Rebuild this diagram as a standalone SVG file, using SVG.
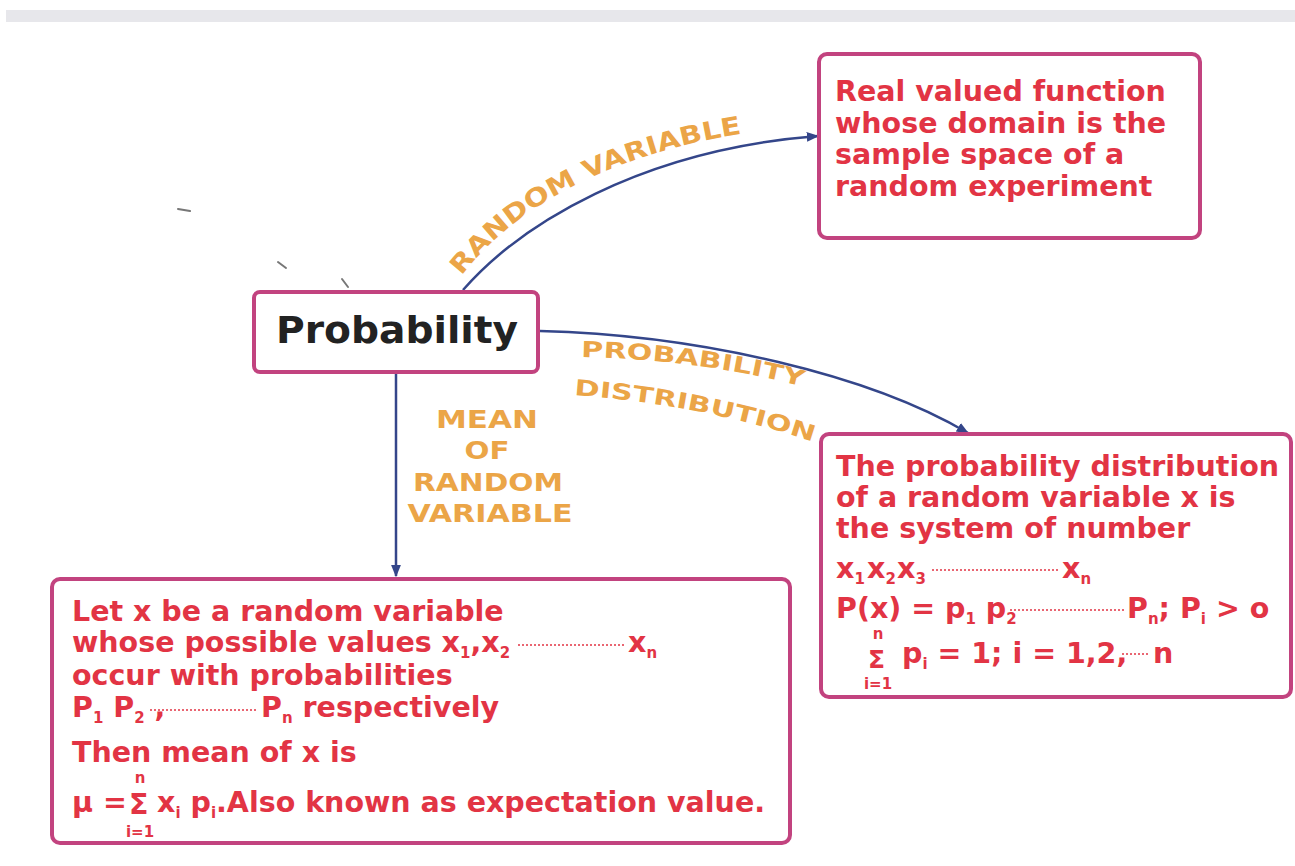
<svg xmlns="http://www.w3.org/2000/svg" width="1295" height="866" viewBox="0 0 1295 866">
<defs>
<marker id="arr" viewBox="0 0 10 10" refX="9" refY="5" markerWidth="5" markerHeight="5" orient="auto" markerUnits="strokeWidth">
<path d="M0,1 L10,5 L0,9 z" fill="#34468a"/>
</marker>
<path id="pRV" d="M 459 279 C 520 198, 636 140, 800 127"/>
<path id="pPD1" d="M 579 357 Q 700 359 808 388"/>
<path id="pPD2" d="M 572 395 Q 700 404 814 442"/>
</defs>
<style>
.box{fill:#ffffff;stroke:#c2437f;stroke-width:4}
.conn{fill:none;stroke:#34468a;stroke-width:2.5}
.red{font-family:"DejaVu Sans",Verdana,sans-serif;font-weight:bold;font-size:28.5px;fill:#e23444}
.sub{font-size:15px}
.lbl{font-family:"DejaVu Sans",Verdana,sans-serif;font-weight:bold;font-size:25px;fill:#eba547}
.lbl2{font-family:"DejaVu Sans",Verdana,sans-serif;font-weight:bold;font-size:22px;fill:#eba547}
.lead{stroke:#e23444;stroke-width:1.6;stroke-dasharray:2 2}
</style>
<rect x="0" y="0" width="1295" height="866" fill="#ffffff"/>
<rect x="6" y="10" width="1289" height="12" fill="#e7e7eb"/>
<g id="specks" stroke="#777" stroke-width="2" stroke-linecap="round">
<line x1="178" y1="209" x2="190" y2="211"/>
<line x1="278" y1="262" x2="286" y2="268"/>
<line x1="342" y1="279" x2="348" y2="287"/>
</g>
<g id="connectors">
<path class="conn" d="M 463 290 C 520 225, 640 150, 818 136" marker-end="url(#arr)"/>
<path class="conn" d="M 540 331 C 700 335, 870 375, 968 433" marker-end="url(#arr)"/>
<path class="conn" d="M 396 373 L 396 576" marker-end="url(#arr)"/>
<text class="lbl"><textPath href="#pRV" startOffset="4" textLength="322" lengthAdjust="spacingAndGlyphs">RANDOM VARIABLE</textPath></text>
<text class="lbl2"><textPath href="#pPD1" startOffset="2" textLength="224" lengthAdjust="spacingAndGlyphs">PROBABILITY</textPath></text>
<text class="lbl2"><textPath href="#pPD2" startOffset="2" textLength="244" lengthAdjust="spacingAndGlyphs">DISTRIBUTION</textPath></text>
<g class="lbl" text-anchor="middle">
<text x="487" y="428" textLength="102" lengthAdjust="spacingAndGlyphs">MEAN</text>
<text x="487" y="459" textLength="45" lengthAdjust="spacingAndGlyphs">OF</text>
<text x="488" y="491" textLength="150" lengthAdjust="spacingAndGlyphs">RANDOM</text>
<text x="490" y="522" textLength="165" lengthAdjust="spacingAndGlyphs">VARIABLE</text>
</g>
</g>
<g id="probability">
<rect class="box" x="254" y="292" width="284" height="80" rx="6"/>
<text x="397" y="343" text-anchor="middle" font-family="DejaVu Sans,Verdana,sans-serif" font-weight="bold" font-size="38" fill="#222" textLength="242" lengthAdjust="spacingAndGlyphs">Probability</text>
</g>
<g id="random-variable-def">
<rect class="box" x="819" y="54" width="381" height="184" rx="8"/>
<g class="red">
<text x="835" y="101">Real valued function</text>
<text x="835" y="133">whose domain is the</text>
<text x="835" y="164">sample space of a</text>
<text x="835" y="196">random experiment</text>
</g>
</g>
<g id="distribution-def">
<rect class="box" x="821" y="434" width="470" height="263" rx="8"/>
<g class="red">
<text x="836" y="476">The probability distribution</text>
<text x="836" y="507">of a random variable x is</text>
<text x="836" y="538">the system of number</text>
<text x="836" y="578">x<tspan class="sub" dy="6">1</tspan><tspan dy="-6" x="867">x</tspan><tspan class="sub" dy="6">2</tspan><tspan dy="-6" x="897">x</tspan><tspan class="sub" dy="6">3</tspan></text>
<line class="lead" x1="932" y1="570" x2="1058" y2="570"/>
<text x="1062" y="578">x<tspan class="sub" dy="6">n</tspan></text>
<text x="836" y="618">P(x) = p<tspan class="sub" dy="6">1</tspan><tspan dy="-6"> p</tspan><tspan class="sub" dy="6">2</tspan></text>
<line class="lead" x1="1010" y1="610" x2="1124" y2="610"/>
<text x="1127" y="618">P<tspan class="sub" dy="6">n</tspan><tspan dy="-6">; P</tspan><tspan class="sub" dy="6">i</tspan><tspan dy="-6"> &gt; o</tspan></text>
<text x="878" y="639" class="sub" text-anchor="middle">n</text>
<text x="868" y="668" font-size="25">Σ</text>
<text x="878" y="689" class="sub" text-anchor="middle">i=1</text>
<text x="902" y="663">p<tspan class="sub" dy="6">i</tspan><tspan dy="-6"> = 1;  i = 1,2,</tspan></text>
<line class="lead" x1="1122" y1="654" x2="1150" y2="654"/>
<text x="1153" y="663">n</text>
</g>
</g>
<g id="mean-def">
<rect class="box" x="52" y="579" width="738" height="264" rx="8"/>
<g class="red">
<text x="72" y="621">Let x be a random variable</text>
<text x="72" y="652">whose possible values x<tspan class="sub" dy="6">1</tspan><tspan dy="-6">,x</tspan><tspan class="sub" dy="6">2</tspan></text>
<line class="lead" x1="518" y1="645" x2="624" y2="645"/>
<text x="628" y="652">x<tspan class="sub" dy="6">n</tspan></text>
<text x="72" y="685">occur with probabilities</text>
<text x="72" y="717">P<tspan class="sub" dy="6">1</tspan><tspan dy="-6"> P</tspan><tspan class="sub" dy="6">2</tspan><tspan dy="-6"> ,</tspan></text>
<line class="lead" x1="150" y1="710" x2="258" y2="710"/>
<text x="261" y="717">P<tspan class="sub" dy="6">n</tspan><tspan dy="-6"> respectively</tspan></text>
<text x="72" y="762">Then mean of x is</text>
<text x="72" y="812">μ =</text>
<text x="140" y="783" class="sub" text-anchor="middle">n</text>
<text x="129" y="814">Σ</text>
<text x="140" y="837" class="sub" text-anchor="middle">i=1</text>
<text x="157" y="812">x<tspan class="sub" dy="6">i</tspan><tspan dy="-6"> p</tspan><tspan class="sub" dy="6">i</tspan><tspan dy="-6">.Also known as expectation value.</tspan></text>
</g>
</g>
</svg>
